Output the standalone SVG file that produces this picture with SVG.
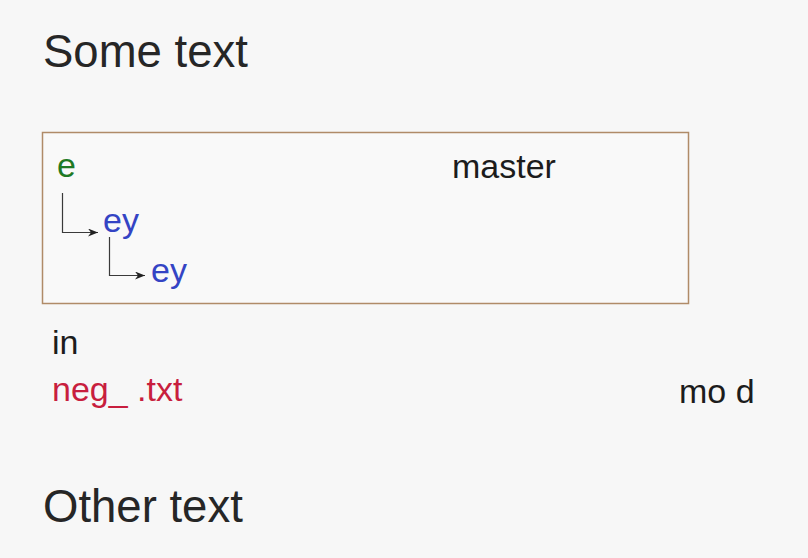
<svg xmlns="http://www.w3.org/2000/svg" width="808" height="558" viewBox="0 0 808 558">
  <style>
    text { font-family: "Liberation Sans", Arial, sans-serif; }
    .h { font-size: 45.5px; fill: #262626; }
    .t { font-size: 34px; fill: #1c1c1c; }
    .green { fill: #1f7a24; }
    .blue { fill: #3444c4; }
    .red { fill: #c81e3e; }
    .conn { fill: none; stroke: #3a3a3a; stroke-width: 1.2; }
  </style>
  <defs>
    <marker id="arr" viewBox="0 0 10 8" refX="10" refY="4" markerWidth="11" markerHeight="8" markerUnits="userSpaceOnUse" orient="auto">
      <path d="M0,0 L10,4 L0,8 L3,4 Z" fill="#222"/>
    </marker>
  </defs>
  <rect x="0" y="0" width="808" height="558" fill="#f7f7f7"/>

  <g id="title-some">
    <text class="h" x="43" y="67">Some text</text>
  </g>

  <g id="branch-box">
    <rect x="42.5" y="132.5" width="646" height="171" fill="#f9f9f9" stroke="#b08b68" stroke-width="1.5"/>
  </g>

  <g id="node-e">
    <text class="t green" x="57" y="177">e</text>
  </g>
  <g id="node-master">
    <text class="t" x="452" y="178">master</text>
  </g>
  <g id="node-ey1">
    <text class="t blue" x="103" y="232">ey</text>
  </g>
  <g id="node-ey2">
    <text class="t blue" x="151" y="282">ey</text>
  </g>

  <g id="connectors">
    <path class="conn" d="M62.5,193 V232.5 H98" marker-end="url(#arr)"/>
    <path class="conn" d="M109.5,237 V275.5 H145" marker-end="url(#arr)"/>
  </g>

  <g id="label-in">
    <text class="t" x="52" y="354">in</text>
  </g>
  <g id="label-neg">
    <text class="t red" x="52" y="401">neg_ .txt</text>
  </g>
  <g id="label-mod">
    <text class="t" x="679" y="403">mo d</text>
  </g>

  <g id="title-other">
    <text class="h" x="43" y="522">Other text</text>
  </g>
</svg>
